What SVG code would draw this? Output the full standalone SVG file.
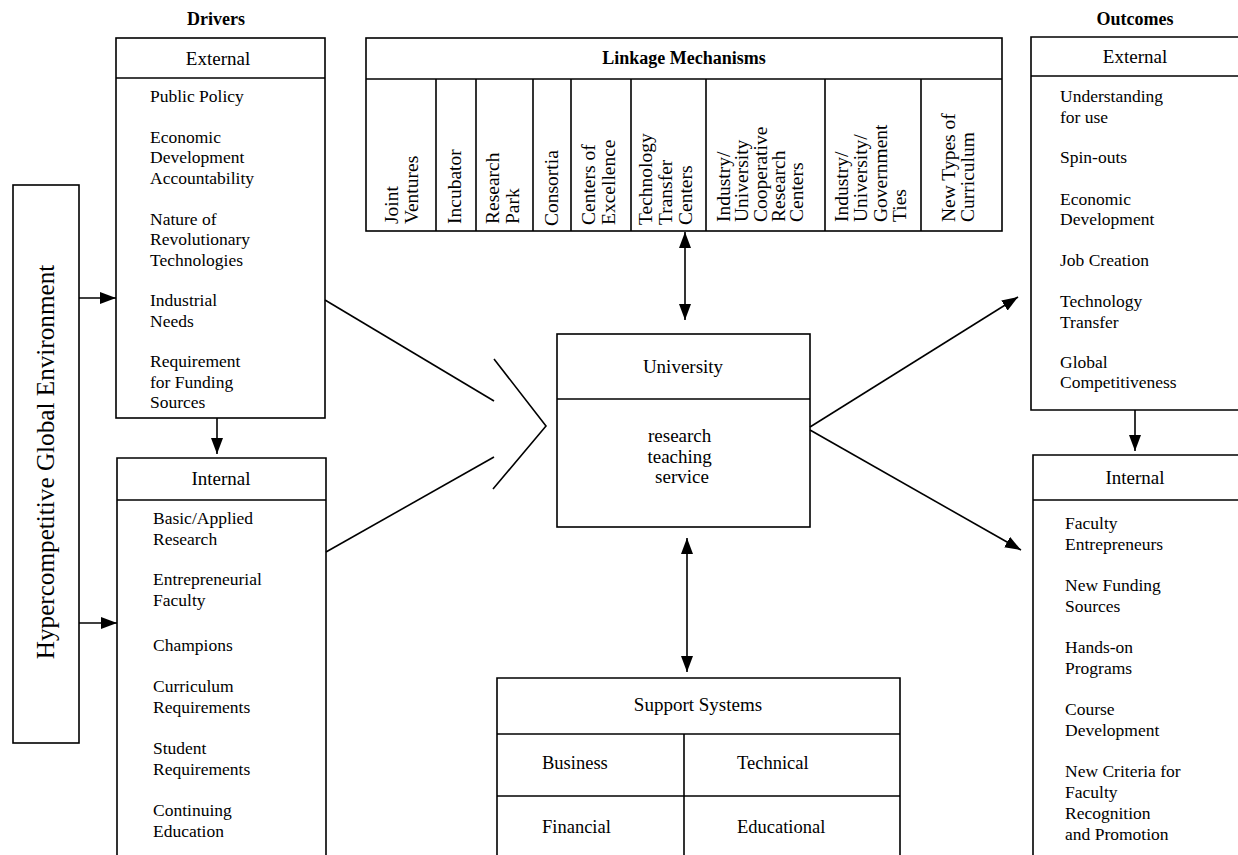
<svg xmlns="http://www.w3.org/2000/svg" width="1238" height="855" viewBox="0 0 1238 855">
<style>
text{font-family:"Liberation Serif","Times New Roman",serif;fill:#000}
.b{fill:none;stroke:#000;stroke-width:1.6}
.ln{fill:none;stroke:#000;stroke-width:1.6}
.ttl{font-size:18px;font-weight:bold;text-anchor:middle}
.hd{font-size:19px;text-anchor:middle}
.it{font-size:17.5px}
.rt{font-size:19.5px}
</style>
<defs>
<marker id="ah" viewBox="0 0 16 12" refX="16" refY="6" markerWidth="16" markerHeight="12" markerUnits="userSpaceOnUse" orient="auto-start-reverse">
<path d="M0,0 L16,6 L0,12 Z" fill="#000"/>
</marker>
</defs>
<rect width="1238" height="855" fill="#fff"/>

<text class="ttl" x="216" y="25">Drivers</text>
<text class="ttl" x="1135" y="25">Outcomes</text>

<g id="hypercompetitive">
<rect class="b" x="13" y="185" width="66" height="558"/>
<text font-size="25.2" text-anchor="middle" transform="translate(54,462) rotate(-90)">Hypercompetitive Global Environment</text>
</g>

<g id="drivers-external">
<rect class="b" x="116" y="38" width="209" height="380"/>
<line class="b" x1="116" y1="78" x2="325" y2="78"/>
<text class="hd" x="218" y="65">External</text>
<text class="it">
<tspan x="150" y="102">Public Policy</tspan>
<tspan x="150" y="143">Economic</tspan>
<tspan x="150" y="163">Development</tspan>
<tspan x="150" y="184">Accountability</tspan>
<tspan x="150" y="225">Nature of</tspan>
<tspan x="150" y="245">Revolutionary</tspan>
<tspan x="150" y="266">Technologies</tspan>
<tspan x="150" y="306">Industrial</tspan>
<tspan x="150" y="327">Needs</tspan>
<tspan x="150" y="367">Requirement</tspan>
<tspan x="150" y="388">for Funding</tspan>
<tspan x="150" y="408">Sources</tspan>
</text>
</g>

<g id="drivers-internal">
<path class="b" d="M117,858 V458 H326 V858"/>
<line class="b" x1="117" y1="500" x2="326" y2="500"/>
<text class="hd" x="221" y="485">Internal</text>
<text class="it">
<tspan x="153" y="524">Basic/Applied</tspan>
<tspan x="153" y="545">Research</tspan>
<tspan x="153" y="585">Entrepreneurial</tspan>
<tspan x="153" y="606">Faculty</tspan>
<tspan x="153" y="651">Champions</tspan>
<tspan x="153" y="692">Curriculum</tspan>
<tspan x="153" y="713">Requirements</tspan>
<tspan x="153" y="754">Student</tspan>
<tspan x="153" y="775">Requirements</tspan>
<tspan x="153" y="816">Continuing</tspan>
<tspan x="153" y="837">Education</tspan>
</text>
</g>

<g id="linkage-mechanisms">
<rect class="b" x="366" y="38" width="636" height="193"/>
<line class="b" x1="366" y1="79" x2="1002" y2="79"/>
<text class="ttl" x="684" y="64" font-size="19">Linkage Mechanisms</text>
<g class="b">
<line x1="436" y1="79" x2="436" y2="231"/>
<line x1="476" y1="79" x2="476" y2="231"/>
<line x1="533" y1="79" x2="533" y2="231"/>
<line x1="571" y1="79" x2="571" y2="231"/>
<line x1="631" y1="79" x2="631" y2="231"/>
<line x1="706" y1="79" x2="706" y2="231"/>
<line x1="825" y1="79" x2="825" y2="231"/>
<line x1="921" y1="79" x2="921" y2="231"/>
</g>
<text class="rt" transform="translate(398,224) rotate(-90)"><tspan x="0" y="0">Joint</tspan><tspan x="0" y="19.5">Ventures</tspan></text>
<text class="rt" transform="translate(461,224) rotate(-90)">Incubator</text>
<text class="rt" transform="translate(499,224) rotate(-90)"><tspan x="0" y="0">Research</tspan><tspan x="0" y="19.5">Park</tspan></text>
<text class="rt" transform="translate(558,226) rotate(-90)">Consortia</text>
<text class="rt" transform="translate(595,225) rotate(-90)"><tspan x="0" y="0">Centers of</tspan><tspan x="0" y="20">Excellence</tspan></text>
<text class="rt" transform="translate(652,225) rotate(-90)"><tspan x="0" y="0">Technology</tspan><tspan x="0" y="20">Transfer</tspan><tspan x="0" y="40">Centers</tspan></text>
<text class="rt" transform="translate(730,222) rotate(-90)"><tspan x="0" y="0">Industry/</tspan><tspan x="0" y="18">University</tspan><tspan x="0" y="36.5">Cooperative</tspan><tspan x="0" y="55">Research</tspan><tspan x="0" y="72.5">Centers</tspan></text>
<text class="rt" transform="translate(848,222) rotate(-90)"><tspan x="0" y="0">Industry/</tspan><tspan x="0" y="19">University/</tspan><tspan x="0" y="39">Government</tspan><tspan x="0" y="58">Ties</tspan></text>
<text class="rt" transform="translate(955,222) rotate(-90)"><tspan x="0" y="0">New Types of</tspan><tspan x="0" y="18.5">Curriculum</tspan></text>
</g>

<g id="university">
<rect class="b" x="557" y="334" width="253" height="193"/>
<line class="b" x1="557" y1="399" x2="810" y2="399"/>
<text class="hd" x="683" y="373">University</text>
<text class="hd">
<tspan x="682" y="442">research</tspan>
<tspan x="682" y="463">teaching</tspan>
<tspan x="682" y="483">service</tspan>
</text>
</g>

<g id="support-systems">
<path class="b" d="M497,858 V678 H900 V858"/>
<line class="b" x1="497" y1="734" x2="900" y2="734"/>
<line class="b" x1="497" y1="796" x2="900" y2="796"/>
<line class="b" x1="684" y1="734" x2="684" y2="858"/>
<text class="hd" x="698" y="711">Support Systems</text>
<text font-size="18.5" x="542" y="769">Business</text>
<text font-size="18.5" x="737" y="769">Technical</text>
<text font-size="18.5" x="542" y="833">Financial</text>
<text font-size="18.5" x="737" y="833">Educational</text>
</g>

<g id="outcomes-external">
<path class="b" d="M1240,37 H1031 V410 H1240"/>
<line class="b" x1="1031" y1="76" x2="1240" y2="76"/>
<text class="hd" x="1135" y="63">External</text>
<text class="it">
<tspan x="1060" y="102">Understanding</tspan>
<tspan x="1060" y="123">for use</tspan>
<tspan x="1060" y="163">Spin-outs</tspan>
<tspan x="1060" y="205">Economic</tspan>
<tspan x="1060" y="225">Development</tspan>
<tspan x="1060" y="266">Job Creation</tspan>
<tspan x="1060" y="307">Technology</tspan>
<tspan x="1060" y="328">Transfer</tspan>
<tspan x="1060" y="368">Global</tspan>
<tspan x="1060" y="388">Competitiveness</tspan>
</text>
</g>

<g id="outcomes-internal">
<path class="b" d="M1033,858 V455 H1240"/>
<line class="b" x1="1033" y1="500" x2="1240" y2="500"/>
<text class="hd" x="1135" y="484">Internal</text>
<text class="it">
<tspan x="1065" y="529">Faculty</tspan>
<tspan x="1065" y="550">Entrepreneurs</tspan>
<tspan x="1065" y="591">New Funding</tspan>
<tspan x="1065" y="612">Sources</tspan>
<tspan x="1065" y="653">Hands-on</tspan>
<tspan x="1065" y="674">Programs</tspan>
<tspan x="1065" y="715">Course</tspan>
<tspan x="1065" y="736">Development</tspan>
<tspan x="1065" y="777">New Criteria for</tspan>
<tspan x="1065" y="798">Faculty</tspan>
<tspan x="1065" y="819">Recognition</tspan>
<tspan x="1065" y="840">and Promotion</tspan>
</text>
</g>

<g id="connectors" class="ln">
<line x1="79" y1="298" x2="116" y2="298" marker-end="url(#ah)"/>
<line x1="79" y1="623" x2="117" y2="623" marker-end="url(#ah)"/>
<line x1="217" y1="418" x2="217" y2="454" marker-end="url(#ah)"/>
<line x1="1135" y1="410" x2="1135" y2="451" marker-end="url(#ah)"/>
<line x1="325" y1="300" x2="494" y2="401"/>
<line x1="326" y1="552" x2="494" y2="457"/>
<polyline points="494,359 546,426 493,489"/>
<line x1="810" y1="427" x2="1018" y2="297" marker-end="url(#ah)"/>
<line x1="810" y1="430" x2="1021" y2="550" marker-end="url(#ah)"/>
<line x1="685" y1="232" x2="685" y2="320" marker-start="url(#ah)" marker-end="url(#ah)"/>
<line x1="687" y1="538" x2="687" y2="672" marker-start="url(#ah)" marker-end="url(#ah)"/>
</g>
</svg>
